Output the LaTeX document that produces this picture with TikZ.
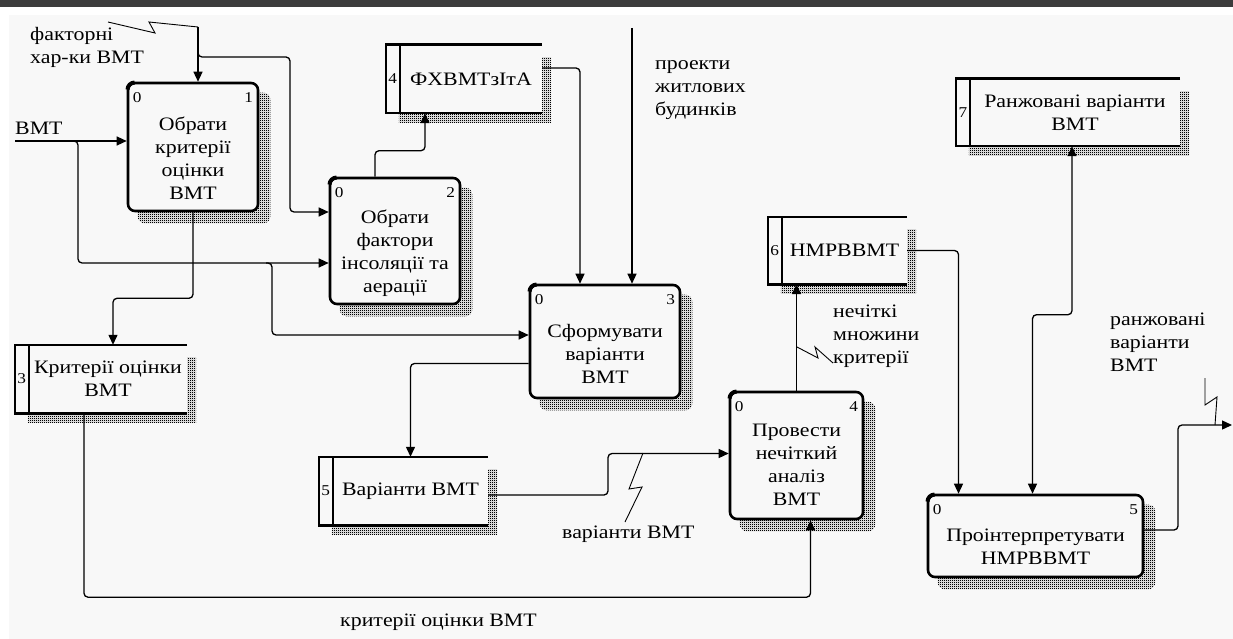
\documentclass[tikz,border=0pt]{standalone}
\usepackage{fontspec}
\setmainfont{Liberation Serif}
\usetikzlibrary{arrows.meta,positioning,patterns}

\definecolor{paper}{HTML}{F8F8F8}
\definecolor{topbar}{HTML}{3C3C3C}

\pgfdeclarelayer{back}
\pgfdeclarelayer{shade}
\pgfsetlayers{back,shade,main}

\pgfdeclarepatternformonly{checker}{\pgfqpoint{0pt}{0pt}}{\pgfqpoint{2pt}{2pt}}{\pgfqpoint{2pt}{2pt}}{
  \pgfpathrectangle{\pgfqpoint{0pt}{0pt}}{\pgfqpoint{1.15pt}{1.15pt}}
  \pgfpathrectangle{\pgfqpoint{1pt}{1pt}}{\pgfqpoint{1.15pt}{1.15pt}}
  \pgfusepath{fill}
}

\tikzset{
  wide/.style={xscale=1.15, transform shape},
  proc/.style={draw, line width=2.6pt, rounded corners=7pt, fill=paper, inner sep=0pt},
  ptext/.style={wide, align=center, font=\fontsize{19}{23}\selectfont, inner sep=0pt},
  num/.style={wide, font=\fontsize{15}{15}\selectfont, inner sep=0pt},
  store/.style={fill=paper, inner sep=0pt},
  storeline/.style={line width=2.6pt},
  lbl/.style={wide, align=left, font=\fontsize{19}{23}\selectfont, inner sep=0pt},
  flow/.style={line width=1.3pt, rounded corners=4pt},
  arr/.style={flow, -{Triangle[length=10pt,width=9pt]}},
  zig/.style={line width=0.9pt},
  hatch/.style={pattern=checker, pattern color=black},
}

\begin{document}
\begin{tikzpicture}[x=1pt, y=-1pt]
        \useasboundingbox (0,0) rectangle (1233,639);
        \begin{pgfonlayer}{back}
          \fill[white] (0,0) rectangle (1233,639);
          \fill[paper] (9,15) rectangle (1233,639);
          \fill[topbar] (0,0) rectangle (1233,7.5);
        \end{pgfonlayer}

        % activity boxes
        \node[proc, minimum width=130pt, minimum height=128pt] (b1) at (193,147) {};
        \node[proc, minimum width=130pt, minimum height=126pt] (b2) at (395,241) {};
        \node[proc, minimum width=150pt, minimum height=113pt] (b3) at (605,341.5) {};
        \node[proc, minimum width=133pt, minimum height=127pt] (b4) at (796.5,455.5) {};
        \node[proc, minimum width=215pt, minimum height=82pt] (b5) at (1035.5,536) {};

        \node[ptext] (t1) at ([yshift=-11pt]b1.center) {Обрати\\критерії\\оцінки\\ВМТ};
        \node[ptext] (t2) at ([yshift=-12pt]b2.center) {Обрати\\фактори\\інсоляції та\\аерації};
        \node[ptext] (t3) at ([yshift=-12pt]b3.center) {Сформувати\\варіанти\\ВМТ};
        \node[ptext] (t4) at ([yshift=-9pt]b4.center) {Провести\\нечіткий\\аналіз\\ВМТ};
        \node[ptext] (t5) at ([yshift=-11pt]b5.center) {Проінтерпретувати\\НМРВВМТ};

        \foreach \b/\k in {b1/1,b2/2,b3/3,b4/4,b5/5} {
          \node[num, anchor=north west] at ([shift={(6pt,-11pt)}]\b.north west) {0};
          \node[num, anchor=north east] at ([shift={(-6pt,-11pt)}]\b.north east) {\k};
          \draw[line width=4pt] ([shift={(0.8pt,-8pt)}]\b.north west) arc[start angle=180, end angle=90, radius=7.2pt];
        }

        % data stores
        \node[store, minimum width=142pt, minimum height=68pt] (s4) at (471,79) {};
        \node[store, minimum width=158pt, minimum height=68pt] (s3) at (108,379) {};
        \node[store, minimum width=155pt, minimum height=68pt] (s5) at (410.5,491) {};
        \node[store, minimum width=125pt, minimum height=67pt] (s6) at (844.5,250.5) {};
        \node[store, minimum width=210pt, minimum height=67pt] (s7) at (1075,112.5) {};
        \node[ptext] at (s4) {ФХВМТзІтА};
        \node[ptext] at (s3) {Критерії оцінки\\ВМТ};
        \node[ptext] at (s5) {Варіанти ВМТ};
        \node[ptext] at (s6) {НМРВВМТ};
        \node[ptext] at (s7) {Ранжовані варіанти\\ВМТ};

        \foreach \s/\k in {s3/3,s4/4,s5/5,s6/6,s7/7} {
          \fill[paper] ([xshift=-14pt]\s.north west) rectangle (\s.south west);
          \draw[storeline] (\s.north east) -- ([xshift=-14pt]\s.north west) -- ([xshift=-14pt]\s.south west) -- (\s.south east);
          \draw[storeline] (\s.north west) -- (\s.south west);
          \node[num] at ([xshift=-7pt]\s.west) {\k};
        }

        \begin{pgfonlayer}{shade}
          \foreach \b in {b1,b2,b3,b4,b5}
            \fill[hatch, rounded corners=7pt] ([shift={(11pt,-11pt)}]\b.north west) rectangle ([shift={(11pt,-11pt)}]\b.south east);
          \foreach \s in {s3,s4,s5,s6,s7}
            \fill[hatch] ([shift={(-1pt,-13pt)}]\s.north west) rectangle ([shift={(9pt,-9pt)}]\s.south east);
        \end{pgfonlayer}

        % boundary arrows
        \coordinate (inVMT) at (15,141);
        \coordinate (jVMT) at (78,141);
        \coordinate (jVMT2) at (272,263);
        \coordinate (inFac) at (198,27);
        \coordinate (jFac) at (198,57);
        \coordinate (inProj) at (632,28);
        \coordinate (outRank) at (1232,425);

        \node[lbl, above right=6pt and 0pt of inVMT] (lVMT) {ВМТ};
        \node[lbl, anchor=north west] (lFac) at (30,27) {факторні\\хар-ки ВМТ};
        \node[lbl, below right=32pt and 23pt of inProj] (lProj) {проекти\\житлових\\будинків};
        \node[lbl, anchor=north west] (lFuzzy) at (833,305) {нечіткі\\множини\\критерії};
        \node[lbl, anchor=north west] (lRank) at (1110,313) {ранжовані\\варіанти\\ВМТ};
        \node[lbl, anchor=north west] (lVar) at (562,526) {варіанти ВМТ};
        \node[lbl, anchor=north west] (lCrit) at (340,614) {критерії оцінки ВМТ};

        % connectors
        \draw[arr] (inVMT) -- (inVMT -| b1.west);
        \draw[arr] ([xshift=-6pt]jVMT) -- (jVMT) |- (b2.west |- 0,263);
        \draw[arr] ([xshift=-6pt]jVMT2) -- (jVMT2) |- (b3.west |- 0,335);
        \draw[arr] (inFac) -- (inFac |- b1.north);
        \draw[arr] ([yshift=6pt]jFac) -- (jFac) -| (290,212) -- (b2.west |- 0,212);
        \draw[zig] (108,22) -- (155,33) -- (149,22) -- (inFac);
        \draw[arr] (b1.south) -- ++(0,86) -| ([xshift=5pt]s3.north);
        \draw[arr] ([xshift=-20pt]b2.north) -- ++(0,-26) -| ([xshift=-46pt]s4.south);
        \draw[arr] ([yshift=11pt]s4.east) -| ([xshift=-25pt]b3.north);
        \draw[arr] (inProj) -- (inProj |- b3.north);
        \draw[arr] ([yshift=-22pt]b3.west) -| (s5.north);
        \draw[arr] ([xshift=-24pt]s3.south) -- ++(0,184) -| ([xshift=14pt]b4.south);
        \draw[arr] ([yshift=-4pt]s5.east) -| (608,474) |- ([yshift=2pt]b4.west);
        \draw[zig] (625,522) -- (642,487) -- (629,489) -- (643,453);
        \draw[arr] (b4.north) -- (b4.north |- s6.south);
        \draw[zig] (797,347) -- (818,358) -- (815,347) -- (833,363);
        \draw[arr] (s6.east) -| ([xshift=-77pt]b5.north);
        \draw[flow, {Triangle[length=10pt,width=9pt]}-{Triangle[length=10pt,width=9pt]}] ([xshift=-3pt]b5.north) -- ++(0,-179) -| ([xshift=-3pt]s7.south);
        \draw[arr] ([yshift=6pt]b5.east) -| (1178,478) |- (outRank);
        \draw[zig] (1205,378) -- (1205,405) -- (1217,397) -- (1215,425);
\end{tikzpicture}
\end{document}
